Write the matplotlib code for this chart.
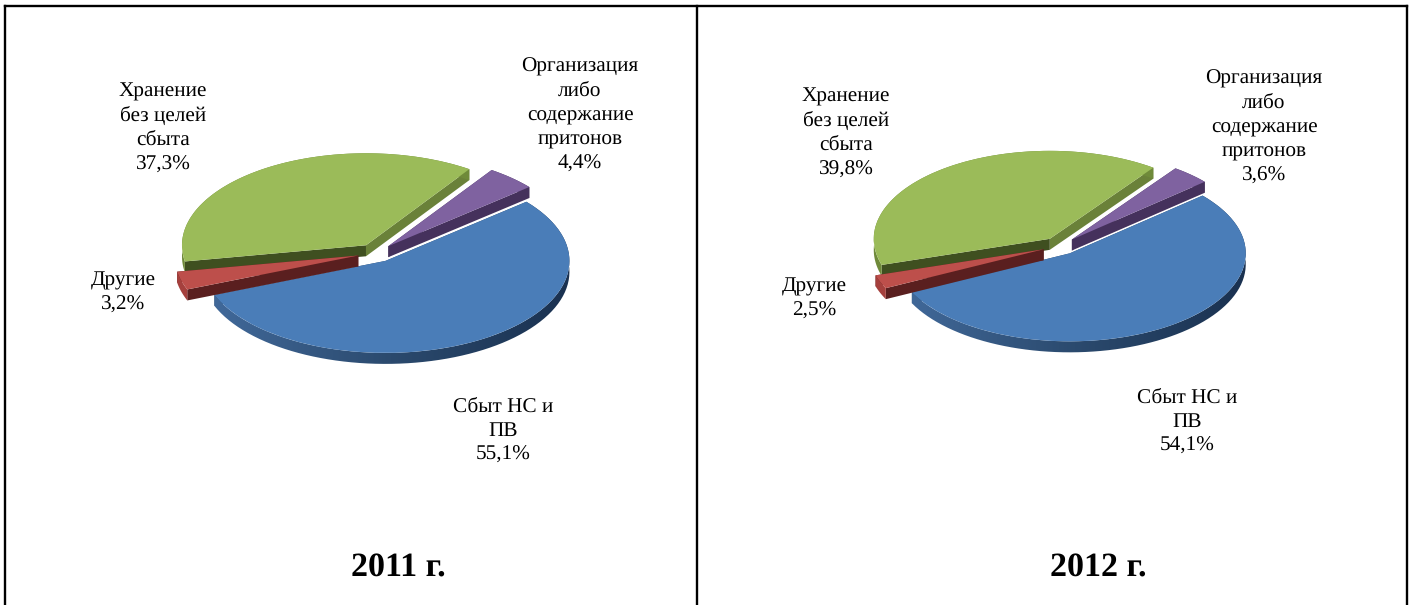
import numpy as np
import matplotlib
matplotlib.use('Agg')
import matplotlib.pyplot as plt
from matplotlib.colors import LinearSegmentedColormap
from matplotlib.lines import Line2D
from matplotlib.patches import Polygon

plt.rcParams['font.family'] = ['Liberation Serif', 'DejaVu Serif']
plt.rcParams['text.hinting'] = 'none'

W, H = 1411, 605

# данные
categories = ['Сбыт НС и\nПВ', 'Другие', 'Хранение\nбез целей\nсбыта', 'Организация\nлибо\nсодержание\nпритонов']
values_2011 = [55.1, 3.2, 37.3, 4.4]
values_2012 = [54.1, 2.5, 39.8, 3.6]
titles = ['2011 г.', '2012 г.']

# цвета срезов: верх, дуга, срез по theta1, срез по theta2
top_colors = ['#4a7db8', '#bd4f4b', '#9bbb59', '#7f62a0']
rim_colors = ['#2a4768', '#a5403d', '#6f8a3a', '#45315c']
face1_colors = ['#2a4768', '#5a1f1f', '#6a8139', '#45315c']
face2_colors = ['#2a4768', '#5a1f1f', '#3f4f20', '#45315c']
zorders = [3, 4, 1, 2]  # красный срез лежит поверх синего

blue_rim = LinearSegmentedColormap.from_list('rim', ['#41699a', '#2b4a6e', '#1a3150'])

EXPLODE = 0.1
DEPTH = 11  # толщина пирога, пиксели


def arc(center, t1, t2, n=80):
    t = np.radians(np.linspace(t1, t2, n))
    return np.column_stack([center[0] + np.cos(t), center[1] + np.sin(t)])


def draw_pie(values, cx, cy, rx, ry, start):
    # оси подобраны так, что единичный круг становится эллипсом rx на ry
    lim = 1.35
    ax = fig.add_axes([(cx - lim * rx) / W, 1 - (cy + lim * ry) / H, 2 * lim * rx / W, 2 * lim * ry / H])
    wedges, _ = ax.pie(values, startangle=start, counterclock=False, explode=[EXPLODE] * len(values),
                       colors=top_colors, wedgeprops={'linewidth': 0})
    ax.set_aspect('auto')
    d = DEPTH / ry

    for i, w in enumerate(wedges):
        z = zorders[i] * 10
        w.set_zorder(z + 5)
        cen = np.array(w.center)

        # боковые грани у разрезов
        for theta, col, k in [(w.theta1, face1_colors[i], 1), (w.theta2, face2_colors[i], 2)]:
            tip = arc(cen, theta, theta, 1)[0]
            quad = [cen, tip, tip - [0, d], cen - [0, d]]
            ax.add_patch(Polygon(quad, closed=True, fc=col, ec='none', zorder=z + k))

        # внешняя дуга
        pts = arc(cen, w.theta1, w.theta2)
        rim = np.vstack([pts, (pts - [0, d])[::-1]])
        if i == 0:
            poly = Polygon(rim, closed=True, transform=ax.transData)
            im = ax.imshow(np.linspace(0, 1, 256).reshape(1, -1), cmap=blue_rim, aspect='auto',
                           extent=(cen[0] - 0.95, cen[0] + 1.0, -lim, lim), zorder=z + 3)
            im.set_clip_path(poly)
        else:
            ax.add_patch(Polygon(rim, closed=True, fc=rim_colors[i], ec='none', zorder=z + 3))

    ax.set_xlim(-lim, lim)
    ax.set_ylim(-lim, lim)
    ax.axis('off')


def put_labels(values, positions):
    for cat, val, (x, y) in zip(categories, values, positions):
        txt = cat + '\n' + f'{val:.1f}'.replace('.', ',') + '%'
        fig.text(x / W, 1 - y / H, txt, ha='center', va='center', fontsize=15.3, linespacing=1.35, color='black')


fig = plt.figure(figsize=(W / 100, H / 100), dpi=100, facecolor='white')

draw_pie(values_2011, 376, 253, 184, 92, 40)
draw_pie(values_2012, 1060, 246, 176, 88, 41)

put_labels(values_2011, [(503, 431), (123, 293), (163, 128), (580, 115)])
put_labels(values_2012, [(1187, 422), (814, 299), (846, 133), (1264, 127)])

for t, x in zip(titles, [398, 1098]):
    fig.text(x / W, 1 - 568 / H, t, ha='center', va='center', fontsize=24.5, fontweight='bold')

# рамка таблицы
for xs, ys in [((5, 1407), (6, 6)), ((5, 5), (6, 605)), ((697, 697), (6, 605)), ((1407, 1407), (6, 605))]:
    fig.add_artist(Line2D([x / W for x in xs], [1 - y / H for y in ys], color='black', lw=1.7, solid_capstyle='projecting'))

fig.savefig('out.png', dpi=100)
